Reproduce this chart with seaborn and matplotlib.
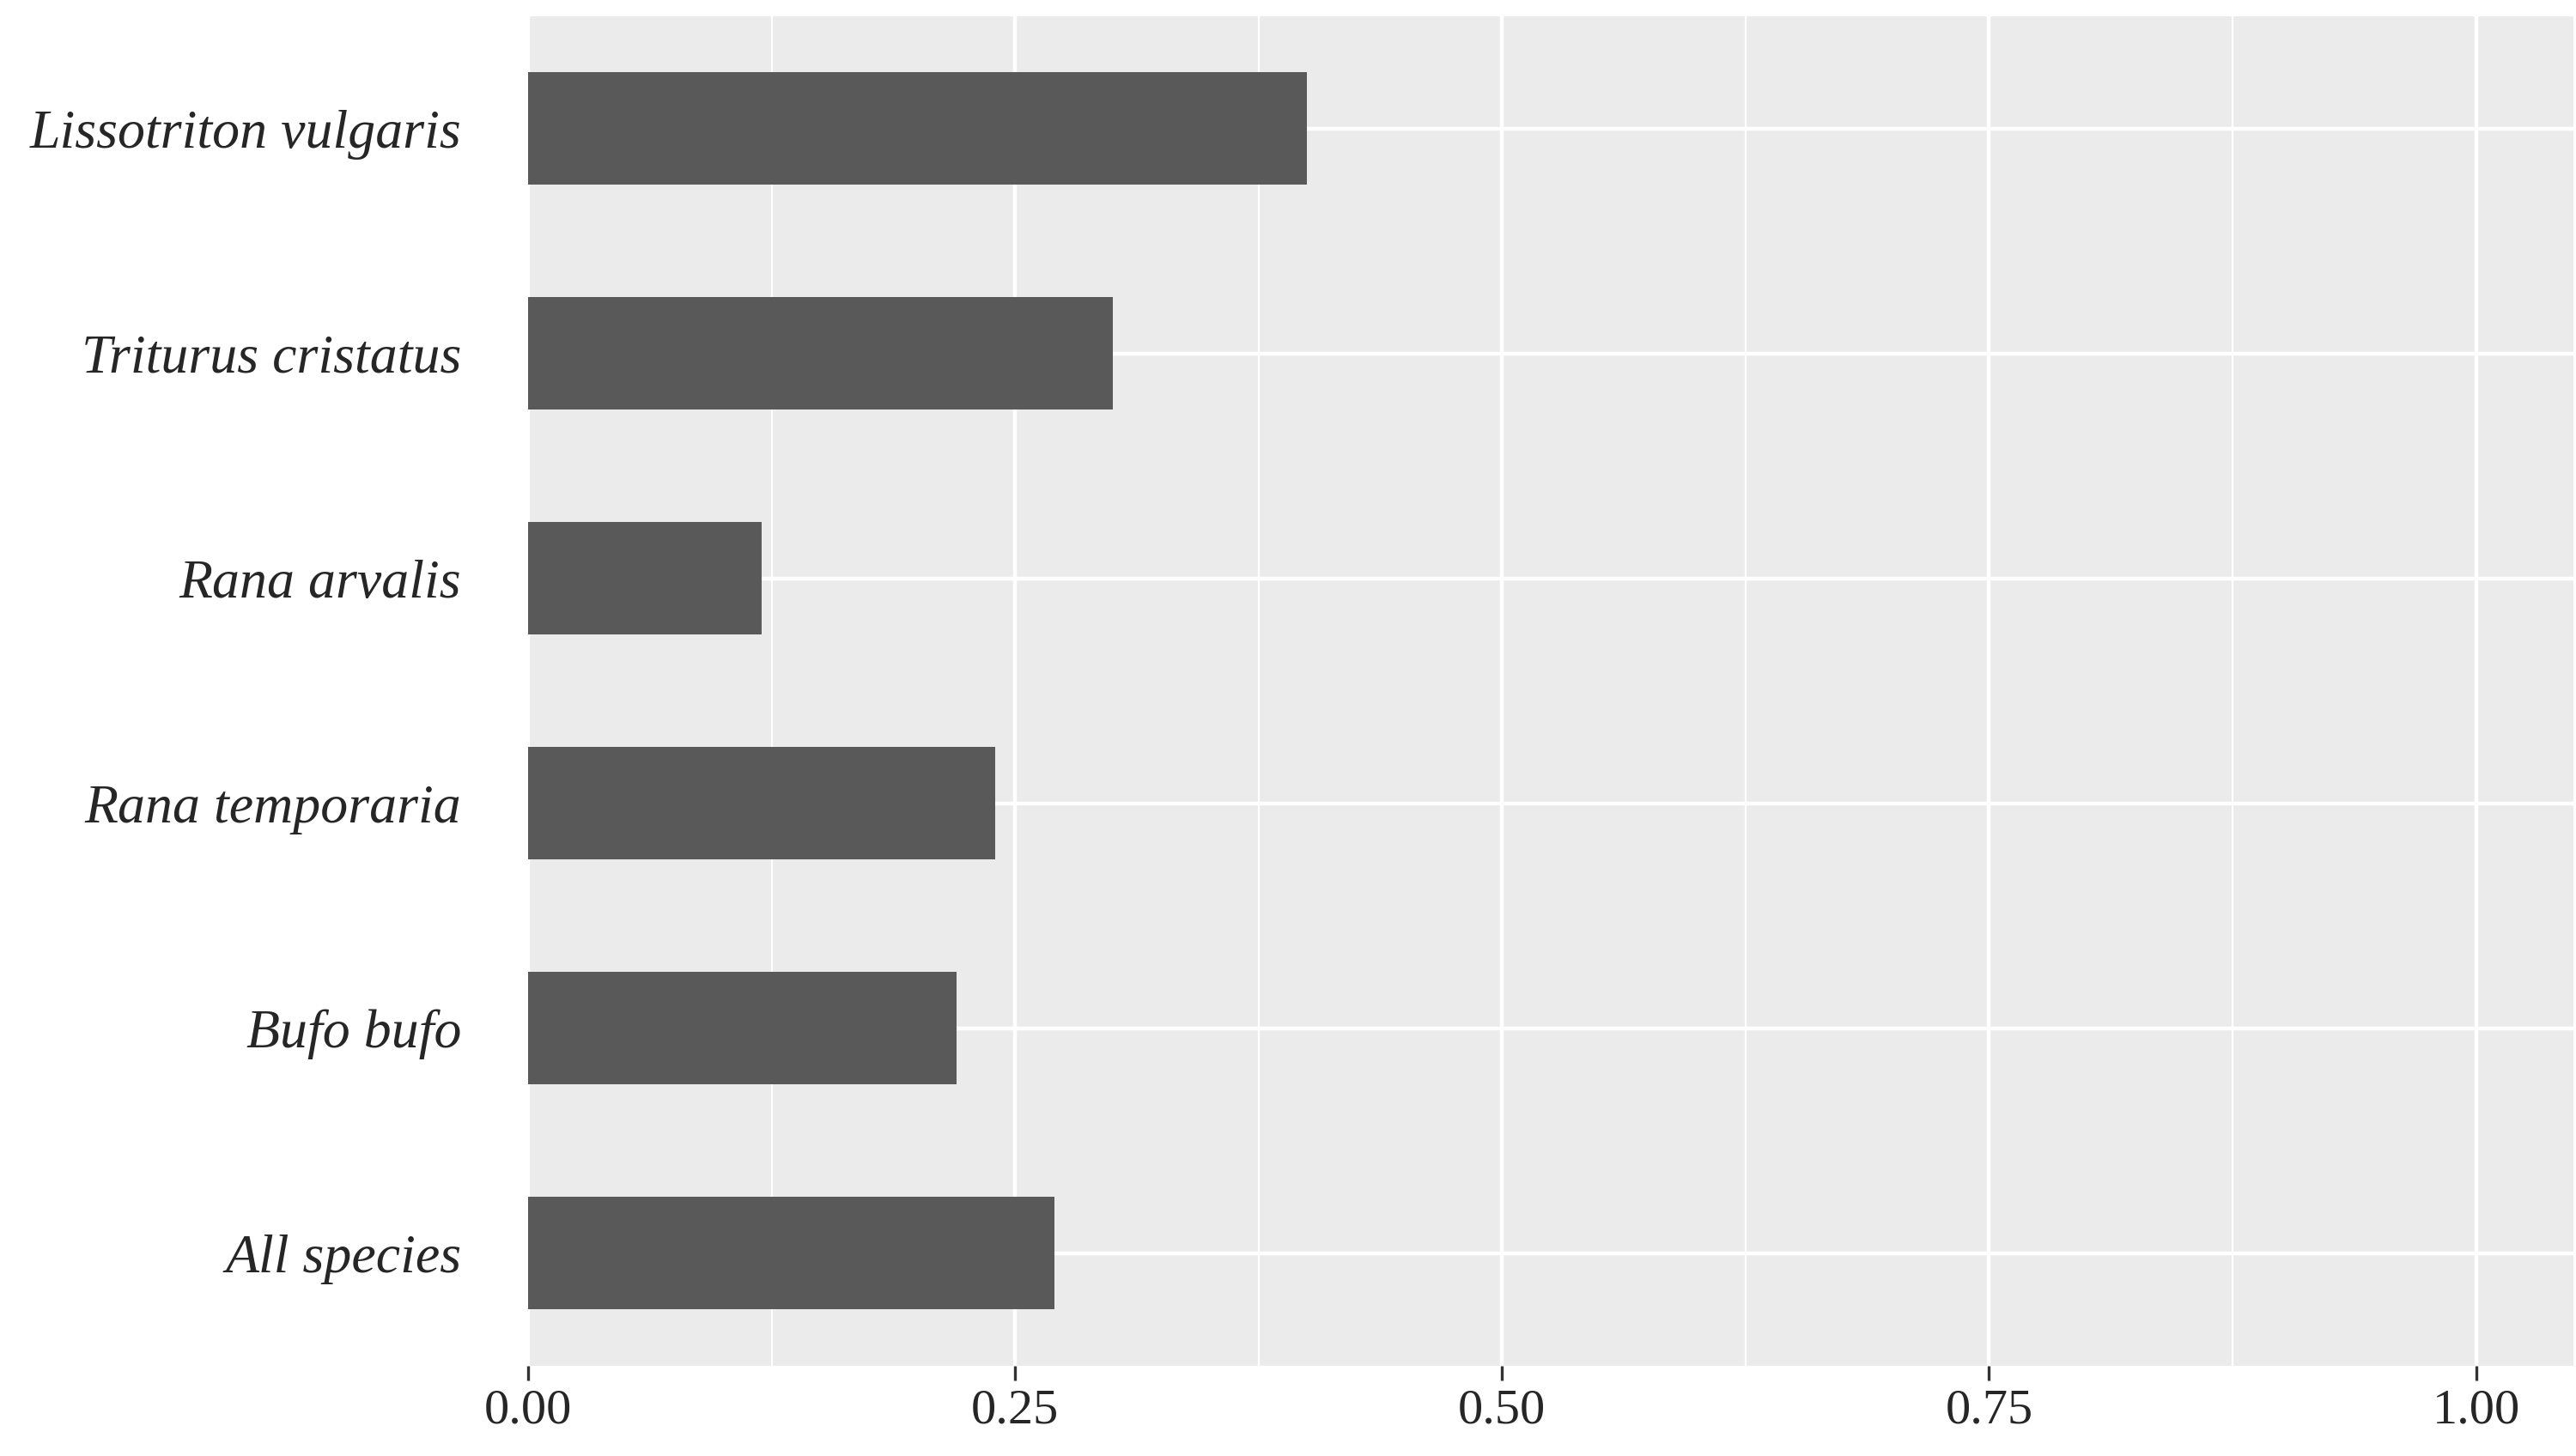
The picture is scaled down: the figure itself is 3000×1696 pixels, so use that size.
import matplotlib
matplotlib.use("Agg")
import matplotlib.pyplot as plt
import seaborn as sns
import pandas as pd

species = ["Lissotriton vulgaris", "Triturus cristatus", "Rana arvalis",
           "Rana temporaria", "Bufo bufo", "All species"]
values = [0.40, 0.30, 0.12, 0.24, 0.22, 0.27]
xticks = [0.00, 0.25, 0.50, 0.75, 1.00]
xticklabels = ["0.00", "0.25", "0.50", "0.75", "1.00"]

df = pd.DataFrame({"species": species, "value": values})

sns.set_theme(style="darkgrid", rc={"axes.facecolor": "#EBEBEB", "grid.color": "white"})
plt.rcParams['font.family'] = ['Liberation Serif', 'DejaVu Serif']

fig = plt.figure(figsize=(15, 8.48), dpi=200)
ax = fig.add_axes([0.205, 0.062, 0.794, 0.927])
sns.barplot(data=df, x="value", y="species", color="#595959", width=0.5,
            saturation=1, ax=ax, order=species, edgecolor="none", linewidth=0)
ax.set_xlim(0, 1.05)
ax.set_xticks(xticks)
ax.set_xticklabels(xticklabels, fontsize=21)
ax.set_xticks([0.125, 0.375, 0.625, 0.875], minor=True)
ax.grid(which="major", color="white", linewidth=1.6)
ax.grid(which="minor", axis="x", color="white", linewidth=0.8)
ax.set_yticks(range(len(species)))
ax.set_yticklabels(species, fontsize=23, style="italic")
ax.set_xlabel("")
ax.set_ylabel("")
for s in ax.spines.values():
    s.set_visible(False)
ax.tick_params(axis="x", which="major", length=6, width=1.2, color="#333333", bottom=True)
ax.tick_params(axis="x", which="minor", length=0)
ax.tick_params(axis="y", length=0, pad=28)
fig.savefig("out.png", dpi=200, facecolor="white")
